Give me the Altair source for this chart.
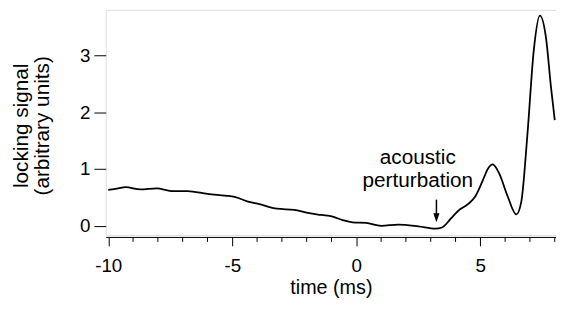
import altair as alt
import pandas as pd

# curve
time_ms = [-10, -9.6, -9.3, -8.7, -8.05, -7.45, -6.8, -6.0, -5.3, -4.9, -4.4, -3.9,
           -3.2, -2.5, -2.0, -1.4, -0.95, -0.55, -0.15, 0.4, 1.0, 1.7, 2.5, 3.2,
           3.45, 3.8, 4.1, 4.5, 4.8, 5.1, 5.3, 5.5, 5.75, 6.1, 6.45, 6.65, 6.9,
           7.15, 7.4, 7.65, 7.85, 8.0]
signal = [0.63, 0.66, 0.68, 0.64, 0.66, 0.61, 0.61, 0.56, 0.53, 0.51, 0.43, 0.38,
          0.30, 0.28, 0.23, 0.19, 0.16, 0.10, 0.06, 0.05, 0.0, 0.02, -0.01, -0.05,
          -0.03, 0.12, 0.26, 0.38, 0.52, 0.80, 1.00, 1.08, 0.93, 0.52, 0.20, 0.42, 1.62,
          3.07, 3.70, 3.30, 2.43, 1.86]

x_domain = [-10.1, 8.05]
y_domain = [-0.162, 3.80]
x_major = [-10, -5, 0, 5]
x_minor = [-9, -8, -7, -6, -4, -3, -2, -1, 1, 2, 3, 4, 6, 7, 8]
y_ticks = [0, 1, 2, 3]

label_text = ["acoustic", "perturbation"]
label_x = [2.48]
label_y = [1.19]
arrow_x = [3.23]
arrow_y_top = [0.46]
arrow_y_bottom = [0.20]
head_y = [0.14]

FONT = "Liberation Sans"

df = pd.DataFrame({"t": time_ms, "s": signal})
xs = alt.Scale(domain=x_domain, nice=False, zero=False)
ys = alt.Scale(domain=y_domain, nice=False, zero=False)

line = alt.Chart(df).mark_line(color="black", strokeWidth=1.8, interpolate="monotone", clip=True).encode(
    x=alt.X("t:Q", scale=xs, title="time (ms)",
            axis=alt.Axis(values=x_major, tickSize=9,
                          labelExpr="toString(datum.value)",
                          offset=2, labelFontSize=19, titleFontSize=20,
                          labelFont=FONT, titleFont=FONT, titleFontWeight="normal",
                          labelColor="black", titleColor="black", domainColor="black",
                          tickColor="black", labelPadding=11, titlePadding=2, grid=False,
                          labelFlush=False, labelOverlap=False)),
    y=alt.Y("s:Q", scale=ys, title=["locking signal", "(arbitrary units)"],
            axis=alt.Axis(values=y_ticks, tickSize=12, domain=False, labelFontSize=19,
                          format="d",
                          titleFontSize=21, labelFont=FONT, titleFont=FONT,
                          titleFontWeight="normal", labelColor="black", titleColor="black",
                          tickColor="black", labelPadding=4, titlePadding=27, grid=False,
                          titleLineHeight=22, titleY=117, labelFlush=False)),
)

minor = alt.Chart(pd.DataFrame({"t": x_minor})).mark_rule(color="black", strokeWidth=1).encode(
    x=alt.X("t:Q", scale=xs),
    y=alt.value(230),
    y2=alt.value(235),
)

text = alt.Chart(pd.DataFrame({"x": label_x, "y": label_y, "label": [label_text]})).mark_text(
    font=FONT, fontSize=21, color="black", align="center", baseline="middle", lineHeight=23.5
).encode(
    x=alt.X("x:Q", scale=xs),
    y=alt.Y("y:Q", scale=ys),
    text="label",
)

arrow = alt.Chart(pd.DataFrame({"x": arrow_x, "y": arrow_y_top, "y2": arrow_y_bottom})).mark_rule(
    color="black", strokeWidth=1.5
).encode(
    x=alt.X("x:Q", scale=xs),
    y=alt.Y("y:Q", scale=ys),
    y2="y2",
)

head = alt.Chart(pd.DataFrame({"x": arrow_x, "y": head_y})).mark_point(
    shape="M-0.7,-1L0.7,-1L0,1Z", filled=True, color="black", size=81, opacity=1
).encode(
    x=alt.X("x:Q", scale=xs),
    y=alt.Y("y:Q", scale=ys),
)

chart = alt.layer(line, minor, text, arrow, head).properties(
    width=456, height=228,
    autosize=alt.AutoSizeParams(type="none"),
    padding={"left": 99, "top": 0, "right": 0, "bottom": 65},
).configure_view(stroke="black", strokeWidth=1).configure(background="white")

chart.save("out.html", embed_options={"renderer": "svg", "actions": False})
